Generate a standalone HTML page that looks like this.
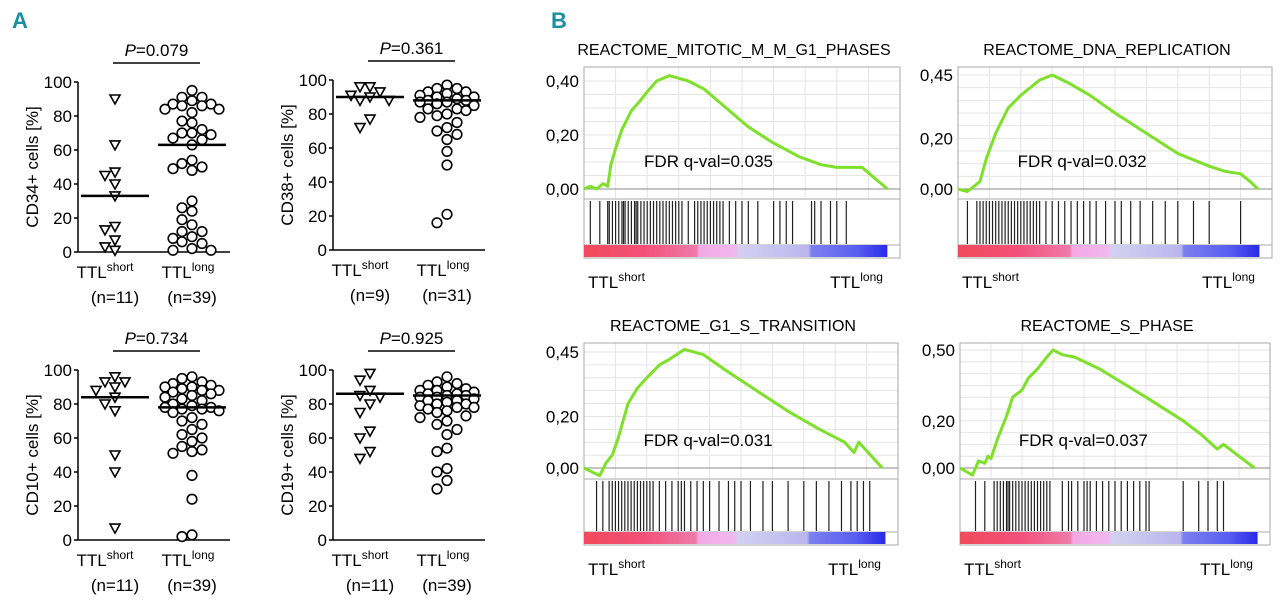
<!DOCTYPE html>
<html><head><meta charset="utf-8">
<style>
body{margin:0;background:#fff;width:1280px;height:597px;overflow:hidden;font-family:"Liberation Sans",sans-serif;}
svg text{font-family:"Liberation Sans",sans-serif;}
</style></head>
<body>
<svg id="fig" width="1280" height="597" xmlns="http://www.w3.org/2000/svg">
<text x="12" y="28" font-size="22" font-weight="bold" fill="#1a8fa0">A</text>
<text x="551" y="28" font-size="22" font-weight="bold" fill="#1a8fa0">B</text>
</svg>
<script>
const NS='http://www.w3.org/2000/svg';
const svg=document.getElementById('fig');
function mk(tag,attrs,parent){const e=document.createElementNS(NS,tag);for(const k in attrs)e.setAttribute(k,attrs[k]);(parent||svg).appendChild(e);return e;}

// ---- Panel A data ----
const cd34Short=[90,63,47,45,40,33,15,13,7,1,3];
const cd34Long=[95,91,91,89,87,87,86,86,84,84,82,77,76,72,70,70,69,67,66,63,54,52,50,49,48,30,26,24,19,16,12,12,9,8,6,5,2,1,1];
const cd38Short=[96,96,93,91,90,88,88,77,72];
const cd38Long=[97,95,95,93,93,92,91,90,90,89,88,88,87,87,86,85,83,83,82,80,79,78,75,72,70,68,65,58,50,21,16];
const cd10Short=[96,93,93,90,88,84,80,76,50,40,7];
const cd10Long=[96,95,93,92,91,90,90,89,88,88,87,86,85,84,83,82,80,79,78,78,77,77,76,75,72,70,68,65,62,60,58,55,53,52,51,38,24,3,2];
const cd19Short=[98,94,88,85,84,80,75,64,60,52,48];
const cd19Long=[96,93,92,91,90,89,88,88,87,86,86,85,85,84,84,83,82,82,81,80,80,79,78,78,77,76,75,73,72,70,68,65,62,54,52,42,40,35,30];
const medians=[[33,63],[90,88],[84,78],[86,85]];
const pvals=['0.079','0.361','0.734','0.925'];
const ylabels=['CD34+ cells [%]','CD38+ cells [%]','CD10+ cells [%]','CD19+ cells [%]'];
const nlabels=[['(n=11)','(n=39)'],['(n=9)','(n=31)'],['(n=11)','(n=39)'],['(n=11)','(n=39)']];
const yTicks=[0,20,40,60,80,100];
const dotData=[[cd34Short,cd34Long],[cd38Short,cd38Long],[cd10Short,cd10Long],[cd19Short,cd19Long]];
const dotLayout=[{ax:78,y0:252},{ax:333,y0:250},{ax:78,y0:540},{ax:333,y0:540}];

function swarm(vals,cx,ys){
  const idx=vals.map((v,i)=>i).sort((a,b)=>vals[b]-vals[a]);
  const placed=[];const out=new Array(vals.length);
  const cands=[0,-10,10,-19,19,-27,27];
  idx.forEach(i=>{const y=ys(vals[i]);
    let best=null,bd=-1;
    for(const c of cands){const x=cx+c;
      const d=placed.length?Math.min(...placed.map(p=>Math.hypot(p[0]-x,p[1]-y))):99;
      if(d>=9.5){best=x;bd=99;break;}
      if(d>bd){bd=d;best=x;}
    }
    placed.push([best,y]);out[i]=[best,y];
  });
  return out;
}

dotData.forEach((grp,pi)=>{
  const L=dotLayout[pi];const ax=L.ax,y0=L.y0;
  const ys=v=>y0-v*1.7;
  const g=mk('g',{});
  
  
  mk('line',{x1:ax,y1:ys(100),x2:ax,y2:y0,stroke:'#000','stroke-width':1.5},g);
  mk('line',{x1:ax,y1:y0,x2:ax+152,y2:y0,stroke:'#000','stroke-width':1.5},g);
  yTicks.forEach(t=>{
    mk('line',{x1:ax-4,y1:ys(t),x2:ax,y2:ys(t),stroke:'#000','stroke-width':1.5},g);
    const tx=mk('text',{x:ax-6,y:ys(t)+6,'font-size':17,'text-anchor':'end'},g);tx.textContent=t;
    
    
  });
  const yl=mk('text',{x:0,y:0,'font-size':17,'text-anchor':'middle',transform:`translate(${ax-40},${ys(50)}) rotate(-90)`},g);
  yl.textContent=ylabels[pi];
  
  
  const cxs=[ax+37,ax+114];
  ['short','long'].forEach((s,k)=>{
    const t=mk('text',{x:cxs[k]-(k?4:10),y:y0+26,'font-size':17,'text-anchor':'middle'},g);
    t.innerHTML='TTL<tspan font-size="12" dy="-7">'+s+'</tspan>';
    
    
    const n=mk('text',{x:cxs[k],y:y0+51,'font-size':17,'text-anchor':'middle'},g);n.textContent=nlabels[pi][k];
    
    
    const pts=swarm(grp[k],cxs[k],ys);
    pts.forEach(p=>{
      let m;
      if(k===0){m=mk('path',{d:`M${p[0]-5},${p[1]-4}L${p[0]+5},${p[1]-4}L${p[0]},${p[1]+5}Z`,fill:'#fff',stroke:'#000','stroke-width':1.6},g);}
      else{m=mk('circle',{cx:p[0],cy:p[1],r:4.8,fill:'#fff',stroke:'#000','stroke-width':1.6},g);}
      
      
    });
    const md=mk('line',{x1:cxs[k]-34,x2:cxs[k]+34,y1:ys(medians[pi][k]),y2:ys(medians[pi][k]),stroke:'#000','stroke-width':2.5},g);
    
    
  });
  const pl=mk('line',{x1:cxs[0]-2,x2:cxs[1]+8,y1:ys(100)-19,y2:ys(100)-19,stroke:'#000','stroke-width':1.5},g);
  
  
  const pt=mk('text',{x:(cxs[0]+cxs[1])/2+3,y:ys(100)-26,'font-size':17,'text-anchor':'middle'},g);
  pt.innerHTML='<tspan font-style="italic">P</tspan>='+pvals[pi];
  
  
});

// ---- Panel B data ----
const gseaTitles=['REACTOME_MITOTIC_M_M_G1_PHASES','REACTOME_DNA_REPLICATION','REACTOME_G1_S_TRANSITION','REACTOME_S_PHASE'];
const fdrLabels=['FDR q-val=0.035','FDR q-val=0.032','FDR q-val=0.031','FDR q-val=0.037'];
const topTickLabels=['0,40','0,45','0,45','0,50'];
const topTickValues=[0.40,0.45,0.45,0.50];
const esX1=[0,0.02,0.04,0.06,0.075,0.085,0.1,0.12,0.15,0.18,0.2,0.23,0.27,0.3,0.33,0.38,0.45,0.52,0.6,0.68,0.75,0.8,0.85,0.88,0.9,0.93,0.96];
const esY1=[0,0.01,0,0.02,0.01,0.09,0.15,0.22,0.29,0.33,0.36,0.40,0.42,0.41,0.40,0.37,0.30,0.23,0.17,0.12,0.09,0.08,0.08,0.08,0.06,0.03,0];
const esX2=[0,0.03,0.05,0.07,0.09,0.12,0.16,0.2,0.23,0.26,0.3,0.35,0.42,0.5,0.6,0.7,0.8,0.85,0.9,0.93,0.955];
const esY2=[0,-0.01,0.01,0.03,0.12,0.22,0.32,0.37,0.40,0.43,0.45,0.42,0.37,0.30,0.22,0.14,0.09,0.07,0.06,0.03,0];
const esX3=[0,0.05,0.07,0.09,0.11,0.14,0.17,0.2,0.24,0.27,0.32,0.38,0.45,0.55,0.65,0.75,0.83,0.86,0.875,0.95];
const esY3=[0,-0.03,0.02,0.05,0.12,0.25,0.31,0.35,0.40,0.42,0.46,0.44,0.38,0.30,0.22,0.15,0.10,0.06,0.10,0];
const esX4=[0,0.04,0.06,0.08,0.09,0.1,0.12,0.15,0.17,0.2,0.22,0.25,0.28,0.3,0.33,0.37,0.45,0.6,0.72,0.78,0.83,0.85,0.95];
const esY4=[0,-0.03,0.03,0.02,0.05,0.04,0.12,0.22,0.30,0.33,0.38,0.42,0.47,0.50,0.48,0.47,0.42,0.30,0.20,0.14,0.08,0.10,0];
const hits1=[0.02,0.05,0.075,0.08,0.09,0.1,0.11,0.12,0.125,0.13,0.14,0.15,0.16,0.165,0.17,0.18,0.19,0.2,0.21,0.22,0.23,0.24,0.25,0.26,0.27,0.28,0.29,0.3,0.31,0.33,0.35,0.36,0.37,0.38,0.39,0.4,0.41,0.42,0.43,0.44,0.46,0.48,0.5,0.52,0.55,0.6,0.62,0.64,0.66,0.72,0.73,0.75,0.78,0.8,0.83];
const hits2=[0.03,0.06,0.07,0.08,0.09,0.1,0.11,0.12,0.13,0.14,0.15,0.16,0.17,0.18,0.19,0.2,0.21,0.22,0.23,0.24,0.25,0.26,0.28,0.3,0.32,0.34,0.36,0.38,0.4,0.42,0.44,0.47,0.5,0.52,0.55,0.58,0.62,0.66,0.7,0.75,0.8,0.9];
const hits3=[0.04,0.06,0.08,0.09,0.1,0.11,0.12,0.13,0.14,0.15,0.16,0.17,0.18,0.19,0.2,0.21,0.22,0.24,0.26,0.28,0.3,0.31,0.32,0.34,0.36,0.38,0.4,0.43,0.46,0.48,0.5,0.53,0.57,0.6,0.65,0.7,0.74,0.78,0.82,0.85,0.87,0.89,0.91];
const hits4=[0.05,0.08,0.11,0.12,0.13,0.14,0.15,0.155,0.16,0.17,0.18,0.19,0.2,0.21,0.22,0.23,0.24,0.25,0.26,0.27,0.28,0.29,0.33,0.35,0.36,0.38,0.4,0.41,0.42,0.44,0.46,0.48,0.5,0.52,0.54,0.56,0.58,0.6,0.61,0.72,0.77,0.8,0.83,0.85];
const gseaX=[esX1,esX2,esX3,esX4];
const gseaY=[esY1,esY2,esY3,esY4];
const gseaHits=[hits1,hits2,hits3,hits4];
const gseaLayout=[{l:584,r:900,t:67,z:122,tk:14,hb:203,cb:245,b:258},{l:958,r:1272,t:67,z:122,tk:8,hb:203,cb:245,b:258},{l:584,r:898,t:343,z:125,tk:9,hb:483,cb:532,b:545},{l:960,r:1270,t:343,z:125,tk:7,hb:483,cb:532,b:545}];

gseaLayout.forEach((L,pi)=>{
  const g=mk('g',{});
  
  
  const w=L.r-L.l;const zy=L.t+L.z;const ty=L.t+L.tk;
  const sc=(zy-ty)/topTickValues[pi];
  const xs=f=>L.l+f*w;const ysf=v=>zy-v*sc;
  const tt=mk('text',{x:(L.l+L.r)/2-8,y:L.t-12,'font-size':16,'text-anchor':'middle'},g);tt.textContent=gseaTitles[pi];
  
  
  const esBottom=L.hb-4;
  for(let i=1;i<10;i++){mk('line',{x1:L.l+i*w/10,x2:L.l+i*w/10,y1:L.t,y2:esBottom,stroke:'#e4e4e4','stroke-width':1},g);}
  for(let v=0.05;v<topTickValues[pi]+0.03;v+=0.05){mk('line',{x1:L.l,x2:L.r,y1:ysf(v),y2:ysf(v),stroke:'#e4e4e4','stroke-width':1},g);}
  mk('rect',{x:L.l,y:L.t,width:w,height:L.b-L.t,fill:'none',stroke:'#aaa','stroke-width':1},g);
  mk('line',{x1:L.l,x2:L.r,y1:esBottom,y2:esBottom,stroke:'#aaa'},g);
  mk('line',{x1:L.l,x2:L.r,y1:zy,y2:zy,stroke:'#888'},g);
  mk('line',{x1:L.l,x2:L.r,y1:L.cb,y2:L.cb,stroke:'#aaa'},g);
  const labs=['0,00','0,20',topTickLabels[pi]];const vals=[0,0.20,topTickValues[pi]];
  labs.forEach((s,i)=>{const t=mk('text',{x:L.l-5,y:ysf(vals[i])+6,'font-size':17,'text-anchor':'end'},g);t.textContent=s;
    
    });
  const gid='grad'+pi;
  const defs=mk('defs',{},g);const lg=mk('linearGradient',{id:gid,x1:0,x2:1,y1:0,y2:0},defs);
  [[0,'#f04a5a'],[0.2,'#f2507a'],[0.37,'#f07aa8'],[0.38,'#f4a8e4'],[0.5,'#f0b8ee'],[0.51,'#d4d0f2'],[0.74,'#bab6ee'],[0.75,'#7a80f0'],[0.9,'#5a5ef0'],[1,'#2a2ae8']].forEach(s=>mk('stop',{offset:s[0],'stop-color':s[1]},lg));
  const cbw=w*0.96;
  const cb=mk('rect',{x:L.l,y:L.cb,width:cbw,height:L.b-L.cb-1,fill:`url(#${gid})`},g);
  
  
  gseaHits[pi].forEach(h=>{const m=mk('line',{x1:xs(h),x2:xs(h),y1:esBottom+2,y2:L.cb-1,stroke:'#222','stroke-width':1.2},g);
    
    });
  const pts=gseaX[pi].map((x,i)=>xs(x).toFixed(1)+','+ysf(gseaY[pi][i]).toFixed(1)).join(' ');
  const pl=mk('polyline',{points:pts,fill:'none',stroke:'#7ee02a','stroke-width':3,'stroke-linejoin':'round'},g);
  
  
  const fd=mk('text',{x:L.l+w*0.19,y:zy-22,'font-size':17},g);fd.textContent=fdrLabels[pi];
  
  
  const s1=mk('text',{x:L.l+4,y:L.b+30,'font-size':17},g);s1.innerHTML='TTL<tspan font-size="12" dy="-7">short</tspan>';
  
  
  const s2=mk('text',{x:L.r-70,y:L.b+30,'font-size':17},g);s2.innerHTML='TTL<tspan font-size="12" dy="-7">long</tspan>';
  
  
});
</script>
</body></html>
